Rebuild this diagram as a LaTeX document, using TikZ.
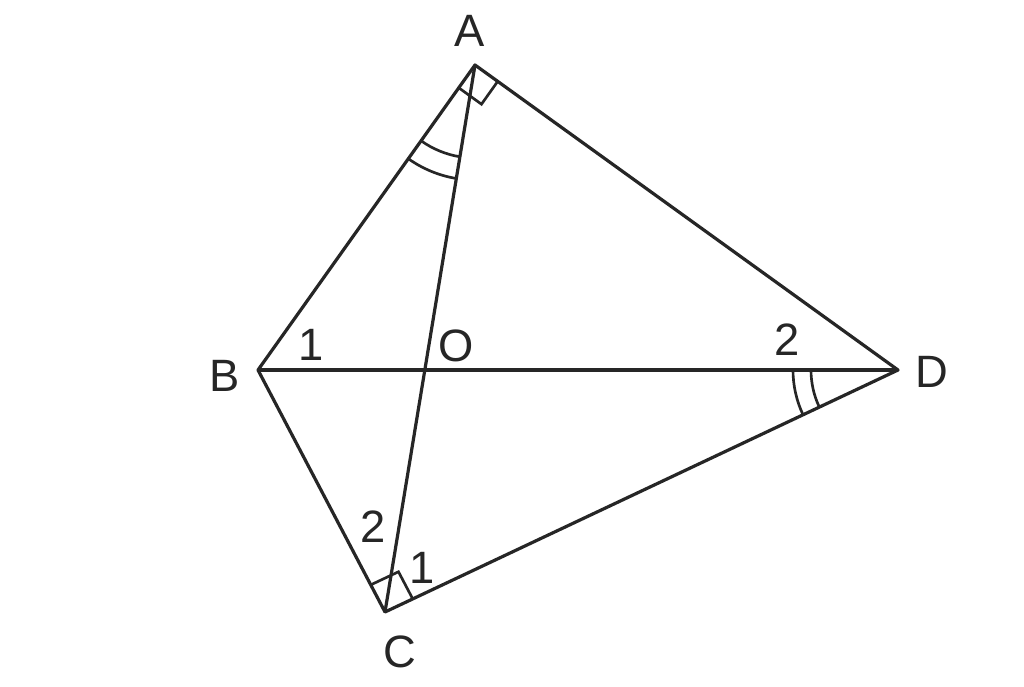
\documentclass[tikz,border=0pt]{standalone}
\usepackage{fontspec}
\setmainfont{Liberation Sans}
\usetikzlibrary{angles,calc}
\begin{document}
\begin{tikzpicture}[x=0.75pt,y=-0.75pt,
  seg/.style={line width=2.4pt,draw=black!85,line join=round},
  angmark/.style={line width=2pt,draw=black!85},
  lbl/.style={font=\fontsize{34}{34}\selectfont,text=black!85,inner sep=0pt}]
\useasboundingbox[fill=white] (0,0) rectangle (1024,686);
\coordinate (A) at (475,65);
\coordinate (B) at (258,370);
\coordinate (C) at (385,612);
\coordinate (D) at (898,370);
\coordinate (O) at (424.8,370);
\draw[seg] (A) -- (B) -- (C) -- (D) -- cycle;
\draw[seg] (B) -- (D);
\draw[seg] (A) -- (C);
% angle marks
\pic[angmark,angle radius=69.75pt] {angle = B--A--C};
\pic[angmark,angle radius=86.25pt] {angle = B--A--C};
\pic[angmark,angle radius=65.25pt] {angle = B--D--C};
\pic[angmark,angle radius=78.75pt] {angle = B--D--C};
\pic[angmark,angle radius=21pt] {right angle = B--A--D};
\pic[angmark,angle radius=23pt] {right angle = B--C--D};
% labels
\node[lbl] (lA) at (470,31) {A};
\node[lbl] (lB) at (225,376) {B};
\node[lbl] (lC) at (400,652) {C};
\node[lbl] (lD) at (932,372) {D};
\node[lbl] (lO) at (456,346) {O};
\node[lbl] (l1B) at (311,345) {1};
\node[lbl] (l2D) at (787,340) {2};
\node[lbl] (l2C) at (373,527) {2};
\node[lbl] (l1C) at (422,568) {1};
\end{tikzpicture}
\end{document}
